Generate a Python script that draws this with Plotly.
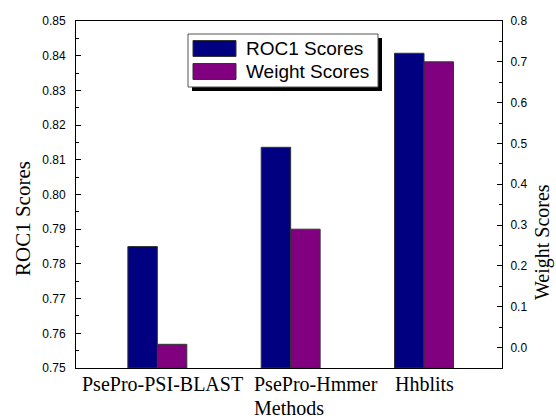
import plotly.graph_objects as go

# ---- data ----
methods = ["PsePro-PSI-BLAST", "PsePro-Hmmer", "Hhblits"]
roc1_scores = [0.785, 0.8136, 0.8407]
weight_scores = [0.008, 0.29, 0.70]
roc1_ticks = [0.75, 0.76, 0.77, 0.78, 0.79, 0.80, 0.81, 0.82, 0.83, 0.84, 0.85]
weight_ticks = [0.0, 0.1, 0.2, 0.3, 0.4, 0.5, 0.6, 0.7, 0.8]

# ---- layout constants ----
W, H = 556, 418
L, R, T, B = 76, 502, 21, 368
Y1 = (0.75, 0.85)
Y2 = (-0.05, 0.8)
NAVY = "#000080"
PURPLE = "#800080"
label_shift = [5, 25, 0]

def px(x):
    return (x - L) / (R - L)

def py(y):
    return (B - y) / (B - T)

fig = go.Figure()
fig.add_trace(go.Bar(
    x=methods, y=[v - Y1[0] for v in roc1_scores], base=Y1[0],
    name="ROC1 Scores", marker=dict(color=NAVY, line=dict(color="#333333", width=1)),
    width=0.221, offset=-0.221, yaxis="y", showlegend=False,
))
fig.add_trace(go.Bar(
    x=methods, y=[v - Y2[0] for v in weight_scores], base=Y2[0],
    name="Weight Scores", marker=dict(color=PURPLE, line=dict(color="#333333", width=1)),
    width=0.221, offset=0.0, yaxis="y2", showlegend=False,
))

tickfont = dict(family="Liberation Sans, Arial", size=12, color="black")
fig.update_layout(
    width=W, height=H,
    margin=dict(l=L, r=W - R, t=T, b=H - B),
    paper_bgcolor="white", plot_bgcolor="white",
    showlegend=False,
    xaxis=dict(
        range=[-0.61, 2.585], showline=True, linecolor="black", linewidth=1, mirror=True,
        ticks="", showgrid=False, zeroline=False, showticklabels=False, automargin=False,
    ),
    yaxis=dict(
        range=list(Y1), tickvals=roc1_ticks, ticktext=[f"{v:.2f}" for v in roc1_ticks],
        showline=True, linecolor="black", linewidth=1, ticks="inside", ticklen=5,
        tickcolor="black", showgrid=False, zeroline=False, tickfont=tickfont, automargin=False,
        ticklabelstandoff=7,
        minor=dict(ticks="inside", ticklen=3, dtick=0.005, tick0=0.75, tickcolor="black", showgrid=False),
    ),
    yaxis2=dict(
        range=list(Y2), overlaying="y", side="right", tickvals=weight_ticks,
        ticktext=[f"{v:.1f}" for v in weight_ticks],
        showline=True, linecolor="black", linewidth=1, ticks="inside", ticklen=5,
        tickcolor="black", showgrid=False, zeroline=False, tickfont=tickfont, automargin=False,
        ticklabelstandoff=5,
        minor=dict(ticks="inside", ticklen=3, dtick=0.05, tick0=0.0, tickcolor="black", showgrid=False),
    ),
)

serif = dict(family="Liberation Serif, Times New Roman", size=21, color="black")
serif20 = dict(family="Liberation Serif, Times New Roman", size=20, color="black")
annotations = [
    dict(text="ROC1 Scores", x=px(23), y=py(219), xref="paper", yref="paper",
         textangle=-90, showarrow=False, font=serif, xanchor="center", yanchor="middle"),
    dict(text="Weight Scores", x=px(542), y=py(242), xref="paper", yref="paper",
         textangle=-90, showarrow=False, font=serif20, xanchor="center", yanchor="middle"),
    dict(text="Methods", x=px(289), y=py(408), xref="paper", yref="paper",
         showarrow=False, font=serif20, xanchor="center", yanchor="middle"),
]
for m, s in zip(methods, label_shift):
    annotations.append(dict(text=m, x=m, xref="x", y=py(384), yref="paper", xshift=s,
                            showarrow=False, font=serif20, xanchor="center", yanchor="middle"))

# custom legend
box = (188, 34, 378, 87)
shapes = [
    dict(type="rect", xref="paper", yref="paper", x0=px(box[0] + 4), x1=px(box[2] + 4),
         y0=py(box[3] + 4), y1=py(box[1] + 4), fillcolor="black", line=dict(width=0), layer="above"),
    dict(type="rect", xref="paper", yref="paper", x0=px(box[0]), x1=px(box[2]),
         y0=py(box[3]), y1=py(box[1]), fillcolor="white", line=dict(color="#555555", width=1), layer="above"),
]
legend_items = [("ROC1 Scores", NAVY, 48.5), ("Weight Scores", PURPLE, 71.5)]
for label, color, cy in legend_items:
    shapes.append(dict(type="rect", xref="paper", yref="paper", x0=px(193), x1=px(236),
                       y0=py(cy + 8), y1=py(cy - 8), fillcolor=color,
                       line=dict(color="#333333", width=1), layer="above"))
    annotations.append(dict(text=label, x=px(244), y=py(cy), xref="paper", yref="paper",
                            showarrow=False, xanchor="left", yanchor="middle",
                            font=dict(family="Liberation Sans, Arial", size=19, color="black")))

fig.update_layout(shapes=shapes, annotations=annotations)
fig.write_html("out.html")
